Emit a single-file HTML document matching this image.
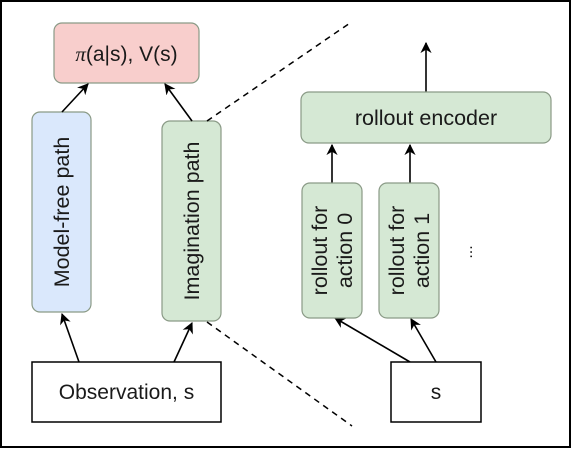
<!DOCTYPE html>
<html><head><style>
body{margin:0;width:571px;height:448px;overflow:hidden;background:#fff}
svg text{font-family:"Liberation Sans",sans-serif;fill:#1a1a1a}
</style></head><body>
<svg width="571" height="448" viewBox="0 0 571 448">
<defs><marker id="a" viewBox="0 0 10 10" refX="9" refY="5" markerWidth="7" markerHeight="7" orient="auto"><path d="M0,0 L10,5 L0,10 L3,5 z" fill="#000"/></marker></defs>
<rect x="1" y="1" width="569" height="446" fill="#fff" stroke="#000" stroke-width="2"/>
<rect x="54" y="23" width="145" height="60" rx="8" fill="#f8cecc" stroke="#8a9a86" stroke-width="1.2"/>
<text x="126.5" y="61" font-size="21" text-anchor="middle"><tspan font-family="Liberation Serif" font-style="italic">π</tspan>(a|s), V(s)</text>
<rect x="32" y="112" width="59" height="200" rx="8" fill="#dae8fc" stroke="#8a9a86" stroke-width="1.2"/>
<text transform="translate(69,212) rotate(-90)" font-size="21.5" text-anchor="middle">Model-free path</text>
<rect x="162" y="121" width="59" height="200" rx="8" fill="#d5e8d4" stroke="#8a9a86" stroke-width="1.2"/>
<text transform="translate(199,221) rotate(-90)" font-size="21.5" text-anchor="middle">Imagination path</text>
<rect x="32" y="362" width="189" height="60" fill="#fff" stroke="#000" stroke-width="1.5"/>
<text x="126.5" y="399" font-size="21" text-anchor="middle">Observation, s</text>
<g stroke="#000" stroke-width="1.6" fill="none">
<line x1="62" y1="112" x2="88" y2="84" marker-end="url(#a)"/>
<line x1="192" y1="121" x2="165" y2="84" marker-end="url(#a)"/>
<line x1="79" y1="362" x2="62" y2="314" marker-end="url(#a)"/>
<line x1="174" y1="362" x2="192" y2="323" marker-end="url(#a)"/>
<line x1="426" y1="92" x2="426" y2="43" marker-end="url(#a)"/>
<line x1="332" y1="183" x2="332" y2="145" marker-end="url(#a)"/>
<line x1="410" y1="183" x2="410" y2="145" marker-end="url(#a)"/>
<line x1="410" y1="362" x2="335" y2="318" marker-end="url(#a)"/>
<line x1="436" y1="362" x2="411" y2="319" marker-end="url(#a)"/>
</g>
<g stroke="#000" stroke-width="1.5" stroke-dasharray="6,5">
<line x1="207" y1="121" x2="350" y2="23"/>
<line x1="207" y1="322" x2="352" y2="426"/>
</g>
<rect x="301" y="92" width="250" height="51" rx="8" fill="#d5e8d4" stroke="#8a9a86" stroke-width="1.2"/>
<text x="426" y="125" font-size="21.5" text-anchor="middle">rollout encoder</text>
<rect x="302" y="183" width="60" height="135" rx="8" fill="#d5e8d4" stroke="#8a9a86" stroke-width="1.2"/>
<text transform="translate(332,250.5) rotate(-90)" font-size="21.5" text-anchor="middle"><tspan x="0" y="-5">rollout for</tspan><tspan x="0" y="20">action 0</tspan></text>
<rect x="379" y="183" width="60" height="135" rx="8" fill="#d5e8d4" stroke="#8a9a86" stroke-width="1.2"/>
<text transform="translate(409,250.5) rotate(-90)" font-size="21.5" text-anchor="middle"><tspan x="0" y="-5">rollout for</tspan><tspan x="0" y="20">action 1</tspan></text>
<text transform="translate(472,252) rotate(-90)" font-size="16" text-anchor="middle">...</text>
<rect x="391" y="362" width="90" height="60" fill="#fff" stroke="#000" stroke-width="1.5"/>
<text x="436" y="399" font-size="21" text-anchor="middle">s</text>
</svg>
</body></html>
